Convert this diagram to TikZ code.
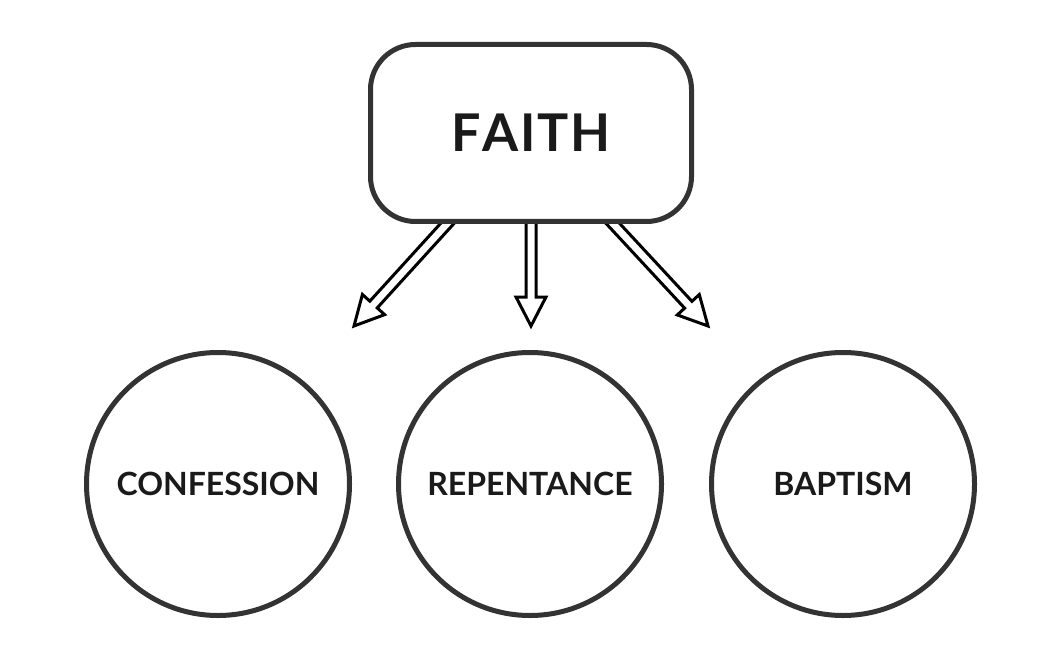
\documentclass[tikz,border=0pt]{standalone}
\usepackage{fontspec}
\setmainfont{Lato}
\usetikzlibrary{calc}
\definecolor{edge}{HTML}{333333}
\definecolor{ink}{HTML}{1A1A1A}
\begin{document}
\begin{tikzpicture}[x=1pt,y=-1pt,
  box/.style={draw=edge,line width=5pt,fill=white,rounded corners=45pt,minimum width=321pt,minimum height=177pt,inner sep=0pt,text=ink,font=\fontsize{52}{52}\selectfont\bfseries},
  circ/.style={draw=edge,line width=5pt,fill=white,circle,minimum size=263pt,inner sep=0pt,text=ink,font=\fontsize{32}{32}\selectfont\bfseries},
  harrow/.style={draw=black,line width=3pt,line join=miter,fill=white}]
\useasboundingbox (0,0) rectangle (1040,652);
\newcommand{\hollowarrow}[2]{%
  \coordinate (hb) at ($(#2)!29pt!(#1)$);
  \draw[harrow] ($(#1)!5pt!90:(#2)$) -- ($(hb)!5pt!90:(#2)$) -- ($(hb)!15pt!90:(#2)$) -- (#2) -- ($(hb)!15pt!-90:(#2)$) -- ($(hb)!5pt!-90:(#2)$) -- ($(#1)!5pt!-90:(#2)$);
}
\coordinate (s1) at (455,215);
\coordinate (t1) at (354,326);
\coordinate (s2) at (531,215);
\coordinate (t2) at (531,326);
\coordinate (s3) at (605,215);
\coordinate (t3) at (708,326);
\hollowarrow{s1}{t1}
\hollowarrow{s2}{t2}
\hollowarrow{s3}{t3}
\node[box] (faith) at (531,133) {F\kern1.5ptA\kern1.5ptI\kern1.5ptT\kern1.5ptH};
\node[circ] (conf) at (218,484) {CONFESSION};
\node[circ] (rep) at (530,484) {REPENTANCE};
\node[circ] (bap) at (843,484) {BAPTISM};
\end{tikzpicture}
\end{document}
